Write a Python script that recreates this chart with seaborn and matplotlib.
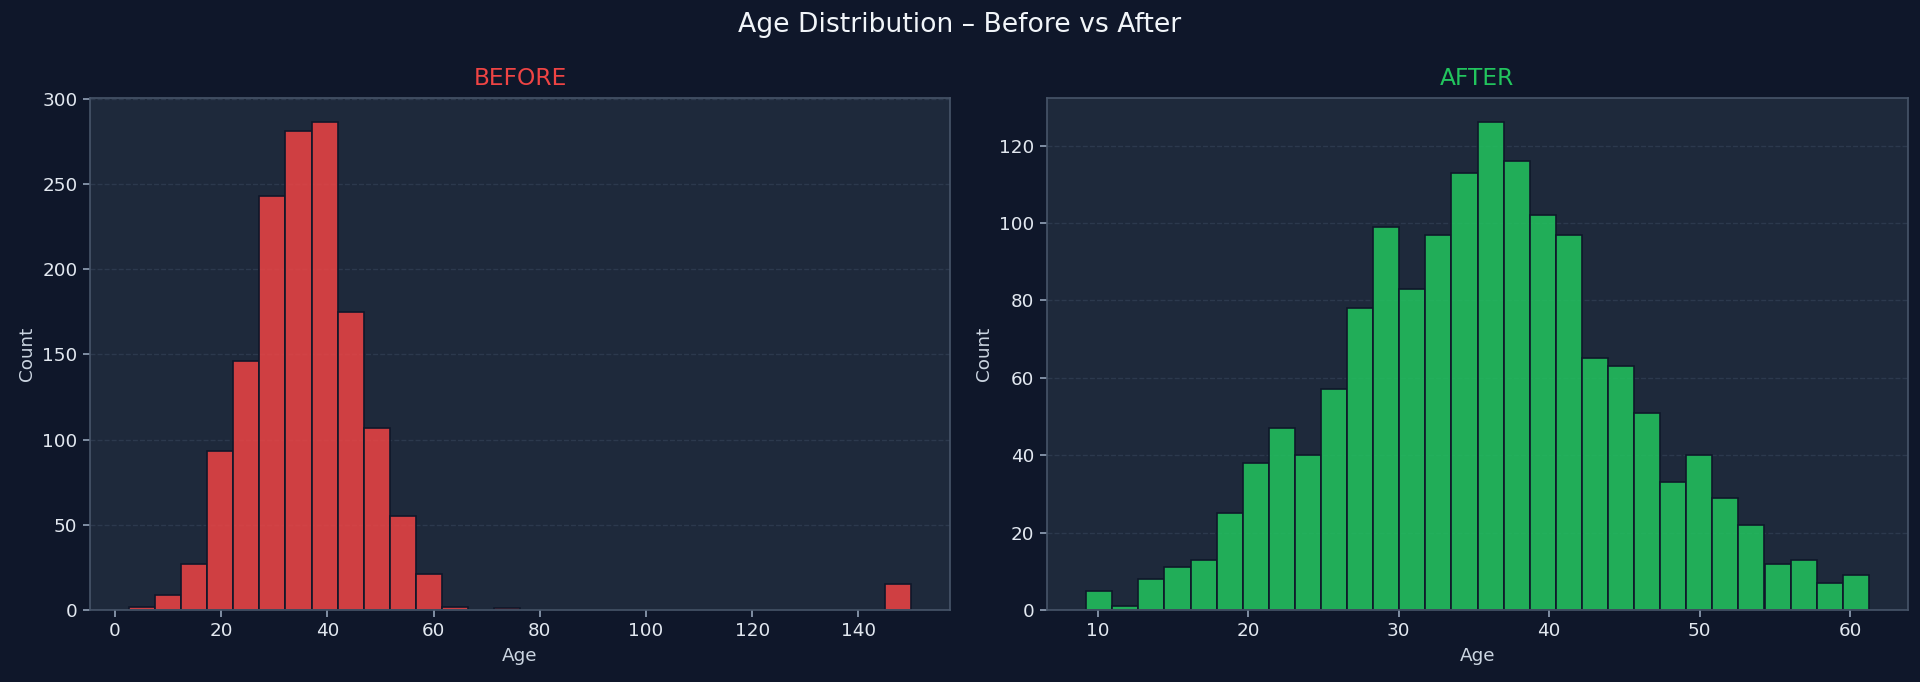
import numpy as np
import pandas as pd
import matplotlib
matplotlib.use("Agg")
import matplotlib.pyplot as plt
import seaborn as sns

# ---- data ----
before_counts = [2, 9, 27, 93, 146, 243, 281, 286, 175, 107, 55, 21, 2, 0, 1,
                 0, 0, 0, 0, 0, 0, 0, 0, 0, 0, 0, 0, 0, 0, 15]
before_range = (2.65, 149.9)
after_counts = [5, 1, 8, 11, 13, 25, 38, 47, 40, 57, 78, 99, 83, 97, 113,
                126, 116, 102, 97, 65, 63, 51, 33, 40, 29, 22, 12, 13, 7, 9]
after_range = (9.22, 61.25)
before_xticks = [0, 20, 40, 60, 80, 100, 120, 140]
after_xticks = [10, 20, 30, 40, 50, 60]

suptitle = "Age Distribution – Before vs After"
panel_titles = ["BEFORE", "AFTER"]
x_label = "Age"
y_label = "Count"

# ---- style ----
BG = "#0f172a"
AX_BG = "#1e293b"
SPINE = "#475569"
TXT = "#e2e8f0"
RED = "#ef4444"
GREEN = "#22c55e"

sns.set_style("dark", rc={"axes.facecolor": AX_BG, "figure.facecolor": BG})
plt.rcParams["font.family"] = ["DejaVu Sans"]

W, H = 1920, 682
fig = plt.figure(figsize=(W / 120, H / 120), dpi=120, facecolor=BG)
ax1 = fig.add_axes([90 / W, 1 - 610 / H, (950 - 90) / W, (610 - 98) / H])
ax2 = fig.add_axes([1047 / W, 1 - 610 / H, (1908 - 1047) / W, (610 - 98) / H])


def make_df(counts, rng):
    edges = np.linspace(rng[0], rng[1], len(counts) + 1)
    centers = (edges[:-1] + edges[1:]) / 2
    return pd.DataFrame({"Age": centers, "n": counts}), rng


for ax, counts, rng, color, title, ticks in [
    (ax1, before_counts, before_range, RED, panel_titles[0], before_xticks),
    (ax2, after_counts, after_range, GREEN, panel_titles[1], after_xticks),
]:
    df, r = make_df(counts, rng)
    ax.set_facecolor(AX_BG)
    sns.histplot(data=df, x="Age", weights="n", bins=len(counts), binrange=r,
                 color=color, alpha=0.85, edgecolor=BG, linewidth=1.0, ax=ax)
    ax.set_title(title, color=color, fontsize=14, pad=8)
    ax.set_xlabel(x_label, color="#cbd5e1", fontsize=11)
    ax.set_ylabel(y_label, color="#cbd5e1", fontsize=11)
    ax.set_xticks(ticks)
    ax.tick_params(axis="both", colors="#94a3b8", labelcolor=TXT, labelsize=11,
                   length=4, width=1, bottom=True, left=True)
    ax.set_axisbelow(True)
    ax.yaxis.grid(True, linestyle="--", color="#334155", linewidth=0.8, alpha=0.7)
    ax.xaxis.grid(False)
    for sp in ax.spines.values():
        sp.set_visible(True)
        sp.set_color(SPINE)
        sp.set_linewidth(1.0)

fig.suptitle(suptitle, color="#f1f5f9", fontsize=16, y=1 - 25 / H, va="center")

fig.savefig("out.png", dpi=120, facecolor=BG)
